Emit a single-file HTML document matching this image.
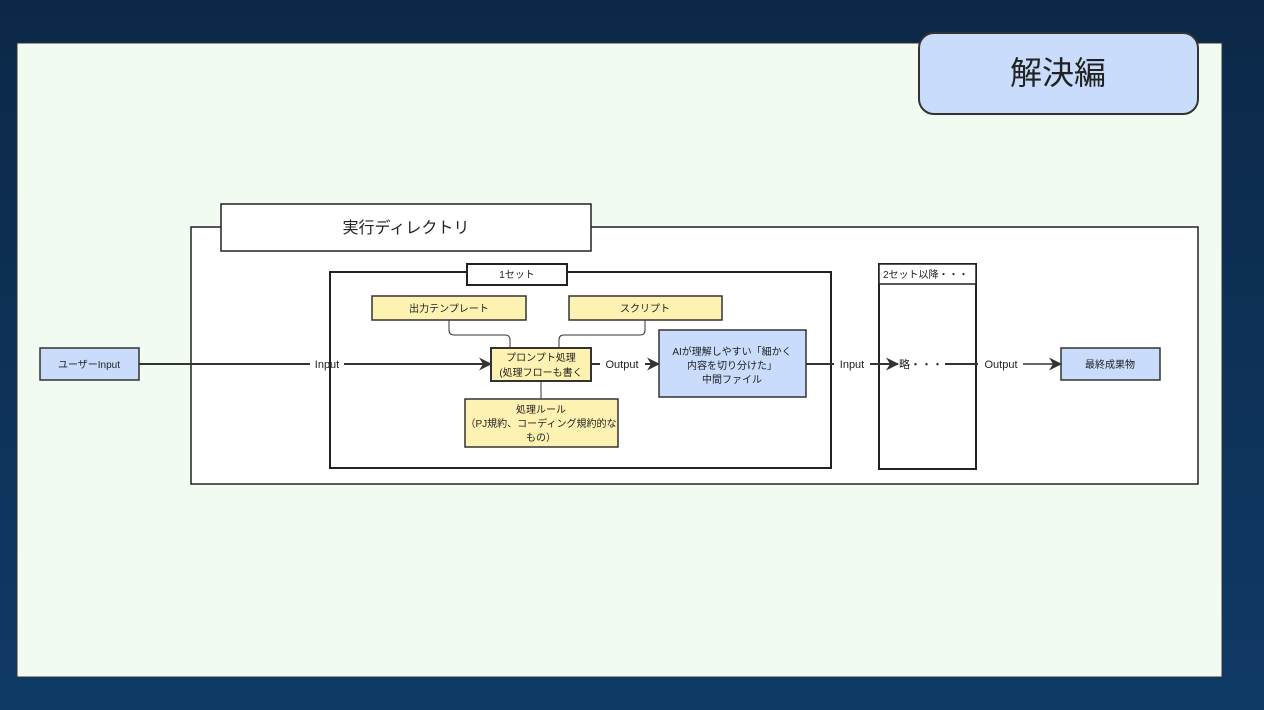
<!DOCTYPE html>
<html><head><meta charset="utf-8"><style>
html,body{margin:0;padding:0;width:1264px;height:710px;overflow:hidden;background:linear-gradient(180deg,#0c2848,#0f3a66);}
svg{display:block}
text{font-family:"Liberation Sans","Noto Sans CJK JP",sans-serif;fill:#222;}
</style></head><body>
<svg width="1264" height="710" viewBox="0 0 1264 710">
<defs><marker id="a" markerWidth="13" markerHeight="13" refX="12" refY="6.5" orient="auto" markerUnits="userSpaceOnUse"><path d="M0,0 L13,6.5 L0,13 L4,6.5 z" fill="#333"/></marker></defs>
<rect x="17" y="43" width="1205" height="634" fill="#f1fbf1" stroke="#333" stroke-width="1"/>
<rect x="919" y="33" width="279" height="81" rx="15" fill="#c9dcfb" stroke="#333" stroke-width="2"/>
<text x="1058" y="84" font-size="32" text-anchor="middle">解決編</text>
<rect x="191" y="227" width="1007" height="257" fill="#fff" stroke="#222" stroke-width="1.5"/>
<rect x="221" y="204" width="370" height="47" fill="#fff" stroke="#222" stroke-width="1.5"/>
<text x="406" y="233" font-size="16" text-anchor="middle">実行ディレクトリ</text>
<rect x="330" y="272" width="501" height="196" fill="#fff" stroke="#222" stroke-width="2"/>
<rect x="467" y="264" width="100" height="21" fill="#fff" stroke="#222" stroke-width="2"/>
<text x="517" y="278" font-size="10" text-anchor="middle">1セット</text>
<rect x="879" y="264" width="97" height="205" fill="#fff" stroke="#222" stroke-width="2"/>
<rect x="879" y="264" width="97" height="20" fill="#fff" stroke="#222" stroke-width="1.5"/>
<text x="883" y="278" font-size="10">2セット以降・・・</text>
<path d="M449,320 V330 Q449,335 454,335 H505 Q510,335 510,340 V348" fill="none" stroke="#333"/>
<path d="M645,320 V330 Q645,335 640,335 H564 Q559,335 559,340 V348" fill="none" stroke="#333"/>
<line x1="541" y1="381" x2="541" y2="399" stroke="#333"/>
<rect x="372" y="296" width="154" height="24" fill="#fdf2b2" stroke="#333" stroke-width="1.5"/>
<text x="449" y="312" font-size="10" text-anchor="middle">出力テンプレート</text>
<rect x="569" y="296" width="153" height="24" fill="#fdf2b2" stroke="#333" stroke-width="1.5"/>
<text x="645" y="312" font-size="10" text-anchor="middle">スクリプト</text>
<rect x="491" y="348" width="100" height="33" fill="#fdf2b2" stroke="#333" stroke-width="2"/>
<text x="541" y="361" font-size="10" text-anchor="middle">プロンプト処理</text>
<text x="541" y="376" font-size="10" text-anchor="middle">(処理フローも書く</text>
<rect x="465" y="399" width="153" height="48" fill="#fdf2b2" stroke="#333" stroke-width="1.5"/>
<text x="541" y="413" font-size="10" text-anchor="middle">処理ルール</text>
<text x="541" y="427" font-size="10" text-anchor="middle">（PJ規約、コーディング規約的な</text>
<text x="541" y="441" font-size="10" text-anchor="middle">もの）</text>
<rect x="659" y="330" width="147" height="67" fill="#c9dcfb" stroke="#333" stroke-width="1.5"/>
<text x="732" y="355" font-size="10" text-anchor="middle">AIが理解しやすい「細かく</text>
<text x="732" y="369" font-size="10" text-anchor="middle">内容を切り分けた」</text>
<text x="732" y="383" font-size="10" text-anchor="middle">中間ファイル</text>
<rect x="40" y="348" width="99" height="32" fill="#c9dcfb" stroke="#333" stroke-width="1.5"/>
<text x="89" y="368" font-size="10" text-anchor="middle">ユーザーInput</text>
<rect x="1061" y="348" width="99" height="32" fill="#c9dcfb" stroke="#333" stroke-width="1.5"/>
<text x="1110" y="368" font-size="10" text-anchor="middle">最終成果物</text>
<g stroke="#333" stroke-width="2" fill="none">
<line x1="139" y1="364" x2="310" y2="364"/>
<line x1="344" y1="364" x2="491" y2="364" marker-end="url(#a)"/>
<line x1="591" y1="364" x2="600" y2="364"/>
<line x1="645" y1="364" x2="659" y2="364" marker-end="url(#a)"/>
<line x1="806" y1="364" x2="834" y2="364"/>
<line x1="870" y1="364" x2="898" y2="364" marker-end="url(#a)"/>
<line x1="945" y1="364" x2="978" y2="364"/>
<line x1="1023" y1="364" x2="1061" y2="364" marker-end="url(#a)" stroke-width="1.5"/>
</g>
<text x="327" y="368" font-size="11" text-anchor="middle" fill="#444">Input</text>
<text x="622" y="368" font-size="11" text-anchor="middle">Output</text>
<text x="852" y="368" font-size="11" text-anchor="middle">Input</text>
<text x="899" y="368" font-size="11">略・・・</text>
<text x="1001" y="368" font-size="11" text-anchor="middle">Output</text>
</svg>
</body></html>
